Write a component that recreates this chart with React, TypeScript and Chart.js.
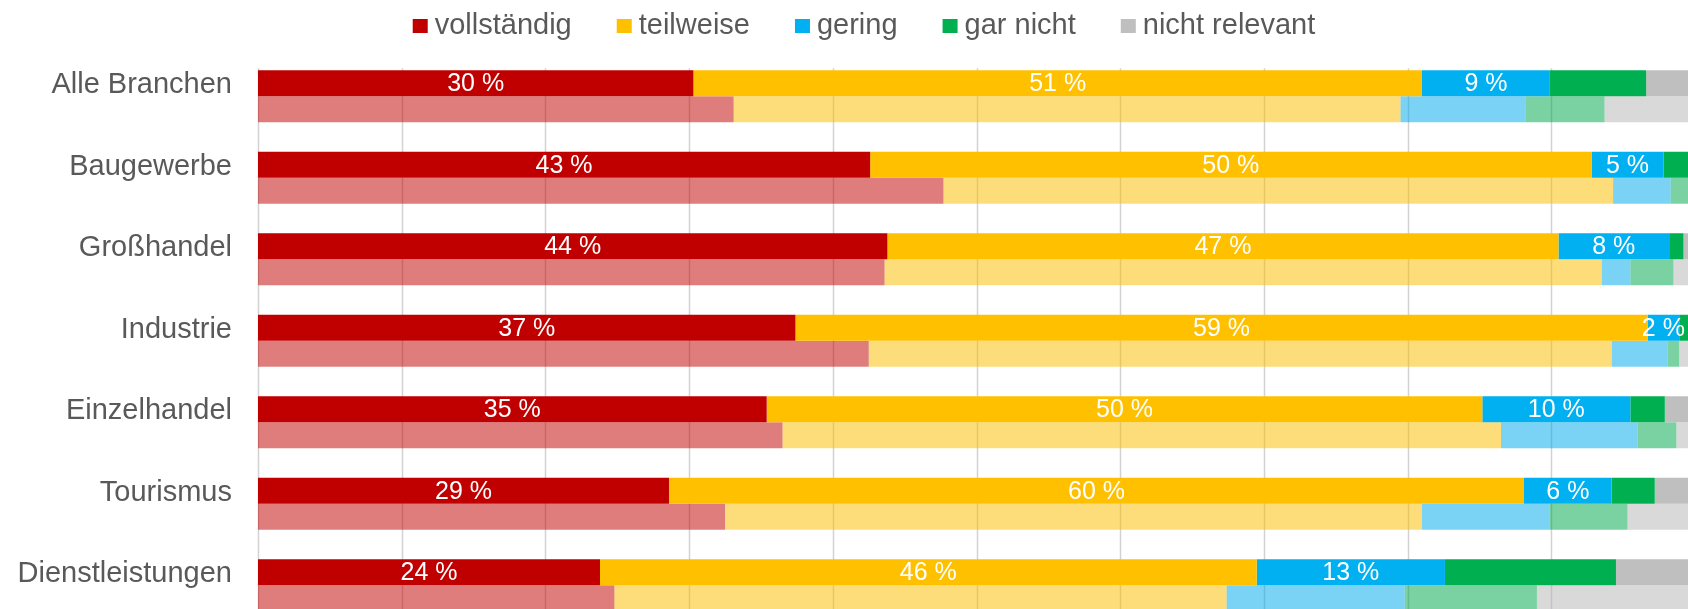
import React, { useEffect, useRef } from 'react';
import { Chart, registerables } from 'chart.js';

Chart.register(...registerables);

// ---------- data ----------
const categories = [
  'Alle Branchen',
  'Baugewerbe',
  'Großhandel',
  'Industrie',
  'Einzelhandel',
  'Tourismus',
  'Dienstleistungen',
];

const seriesNames = ['vollständig', 'teilweise', 'gering', 'gar nicht', 'nicht relevant'];

// current survey (solid bars)
const vollstaendig = [30.3, 42.6, 43.8, 37.4, 35.4, 28.6, 23.8];
const teilweise = [50.7, 50.2, 46.7, 59.3, 49.8, 59.5, 45.7];
const gering = [8.9, 5.0, 7.7, 2.2, 10.3, 6.1, 13.1];
const garNicht = [6.7, 2.2, 1.0, 1.1, 2.4, 3.0, 11.9];
const nichtRelevant = [3.4, 0, 0.8, 0, 2.1, 2.8, 5.5];

// previous survey (faded bars)
const prevVollstaendig = [33.1, 47.7, 43.6, 42.5, 36.5, 32.5, 24.8];
const prevTeilweise = [46.4, 46.6, 49.9, 51.7, 50.0, 48.5, 42.6];
const prevGering = [8.7, 4.0, 2.0, 3.9, 9.5, 8.9, 12.4];
const prevGarNicht = [5.5, 1.5, 3.0, 0.8, 2.7, 5.4, 9.2];
const prevNichtRelevant = [6.3, 0.2, 1.5, 1.1, 1.3, 4.7, 11.0];

const xTicks = [0, 10, 20, 30, 40, 50, 60, 70, 80, 90, 100];
const labelledSeries = [0, 1, 2];

// ---------- styles ----------
const solidColors = ['#C00000', '#FFC000', '#00B0F0', '#00B050', '#BFBFBF'];
const fadedColors = [
  'rgba(192,0,0,0.51)',
  'rgba(252,190,0,0.52)',
  'rgba(0,168,236,0.52)',
  'rgba(0,168,76,0.52)',
  'rgba(180,180,180,0.5)',
];
const FONT = '"Liberation Sans", Arial, Helvetica, sans-serif';
const TEXT = '#595959';

const W = 1695;
const H = 626;

const gridPlugin = {
  id: 'customGrid',
  beforeDatasetsDraw(chart: any) {
    const { ctx, chartArea, scales } = chart;
    const first = chart.getDatasetMeta(0).data[0] as any;
    const top = first ? first.y - first.height / 2 - 2 : chartArea.top;
    ctx.save();
    ctx.strokeStyle = '#D2D2D2';
    ctx.lineWidth = 1.5;
    xTicks.forEach((v) => {
      const x = Math.round(scales.x.getPixelForValue(v)) + 0.5;
      ctx.beginPath();
      ctx.moveTo(x, top);
      ctx.lineTo(x, chartArea.bottom);
      ctx.stroke();
    });
    ctx.restore();
  },
};

const valueLabelPlugin = {
  id: 'valueLabels',
  afterDatasetsDraw(chart: any) {
    const { ctx } = chart;
    ctx.save();
    ctx.font = `25px ${FONT}`;
    ctx.fillStyle = '#FFFFFF';
    ctx.textAlign = 'center';
    ctx.textBaseline = 'middle';
    labelledSeries.forEach((di) => {
      const meta = chart.getDatasetMeta(di);
      const data = chart.data.datasets[di].data as number[];
      meta.data.forEach((el: any, i: number) => {
        const v = data[i];
        if (!v) return;
        const cx = (el.x + el.base) / 2;
        ctx.fillText(`${Math.round(v)} %`, cx, el.y + 1);
      });
    });
    ctx.restore();
  },
};

const topLegendPlugin = {
  id: 'topLegend',
  afterDraw(chart: any) {
    const { ctx } = chart;
    const box = 15;
    const boxH = 14;
    const gapText = 7;
    const gapItem = 45;
    const centerX = 864;
    const baseline = 33.5;
    ctx.save();
    ctx.font = `29px ${FONT}`;
    const widths = seriesNames.map((n) => ctx.measureText(n).width);
    const total =
      widths.reduce((a, b) => a + b, 0) +
      seriesNames.length * (box + gapText) +
      (seriesNames.length - 1) * gapItem;
    let x = centerX - total / 2;
    seriesNames.forEach((n, i) => {
      ctx.fillStyle = solidColors[i];
      ctx.fillRect(x, 19, box, boxH);
      x += box + gapText;
      ctx.fillStyle = TEXT;
      ctx.textAlign = 'left';
      ctx.textBaseline = 'alphabetic';
      ctx.fillText(n, x, baseline);
      x += widths[i] + gapItem;
    });
    ctx.restore();
  },
};

export default function App() {
  const ref = useRef<HTMLCanvasElement | null>(null);

  useEffect(() => {
    if (!ref.current) return;
    const current = [vollstaendig, teilweise, gering, garNicht, nichtRelevant];
    const previous = [prevVollstaendig, prevTeilweise, prevGering, prevGarNicht, prevNichtRelevant];
    const datasets: any[] = [];
    current.forEach((d, i) =>
      datasets.push({
        label: seriesNames[i],
        data: d,
        backgroundColor: solidColors[i],
        stack: 'aktuell',
        borderWidth: 0,
      })
    );
    previous.forEach((d, i) =>
      datasets.push({
        label: seriesNames[i] + ' (Vorjahr)',
        data: d,
        backgroundColor: fadedColors[i],
        stack: 'vorjahr',
        borderWidth: 0,
      })
    );

    const chart = new Chart(ref.current, {
      type: 'bar',
      data: { labels: categories, datasets },
      options: {
        indexAxis: 'y',
        responsive: false,
        animation: false,
        devicePixelRatio: 1,
        categoryPercentage: 0.638,
        barPercentage: 1,
        layout: { padding: { top: 55.5, right: 0, bottom: 0, left: 0 } },
        plugins: {
          legend: { display: false },
          tooltip: { enabled: false },
        },
        scales: {
          x: {
            display: false,
            stacked: true,
            min: 0,
            max: 100,
          },
          y: {
            stacked: true,
            grid: { display: false, drawTicks: false },
            border: { display: false },
            ticks: {
              color: TEXT,
              font: { family: FONT, size: 29 },
              padding: 26,
              labelOffset: -11,
            },
            afterFit(scale: any) {
              scale.width = 258;
              scale.paddingTop = 0;
              scale.paddingBottom = 0;
            },
          },
        },
      } as any,
      plugins: [gridPlugin, valueLabelPlugin, topLegendPlugin],
    });
    return () => chart.destroy();
  }, []);

  return (
    <div
      style={{
        position: 'fixed',
        left: 0,
        top: 0,
        width: W,
        height: H,
        background: '#FFFFFF',
      }}
    >
      <canvas ref={ref} width={W} height={H} style={{ width: W, height: H, display: 'block' }} />
    </div>
  );
}
